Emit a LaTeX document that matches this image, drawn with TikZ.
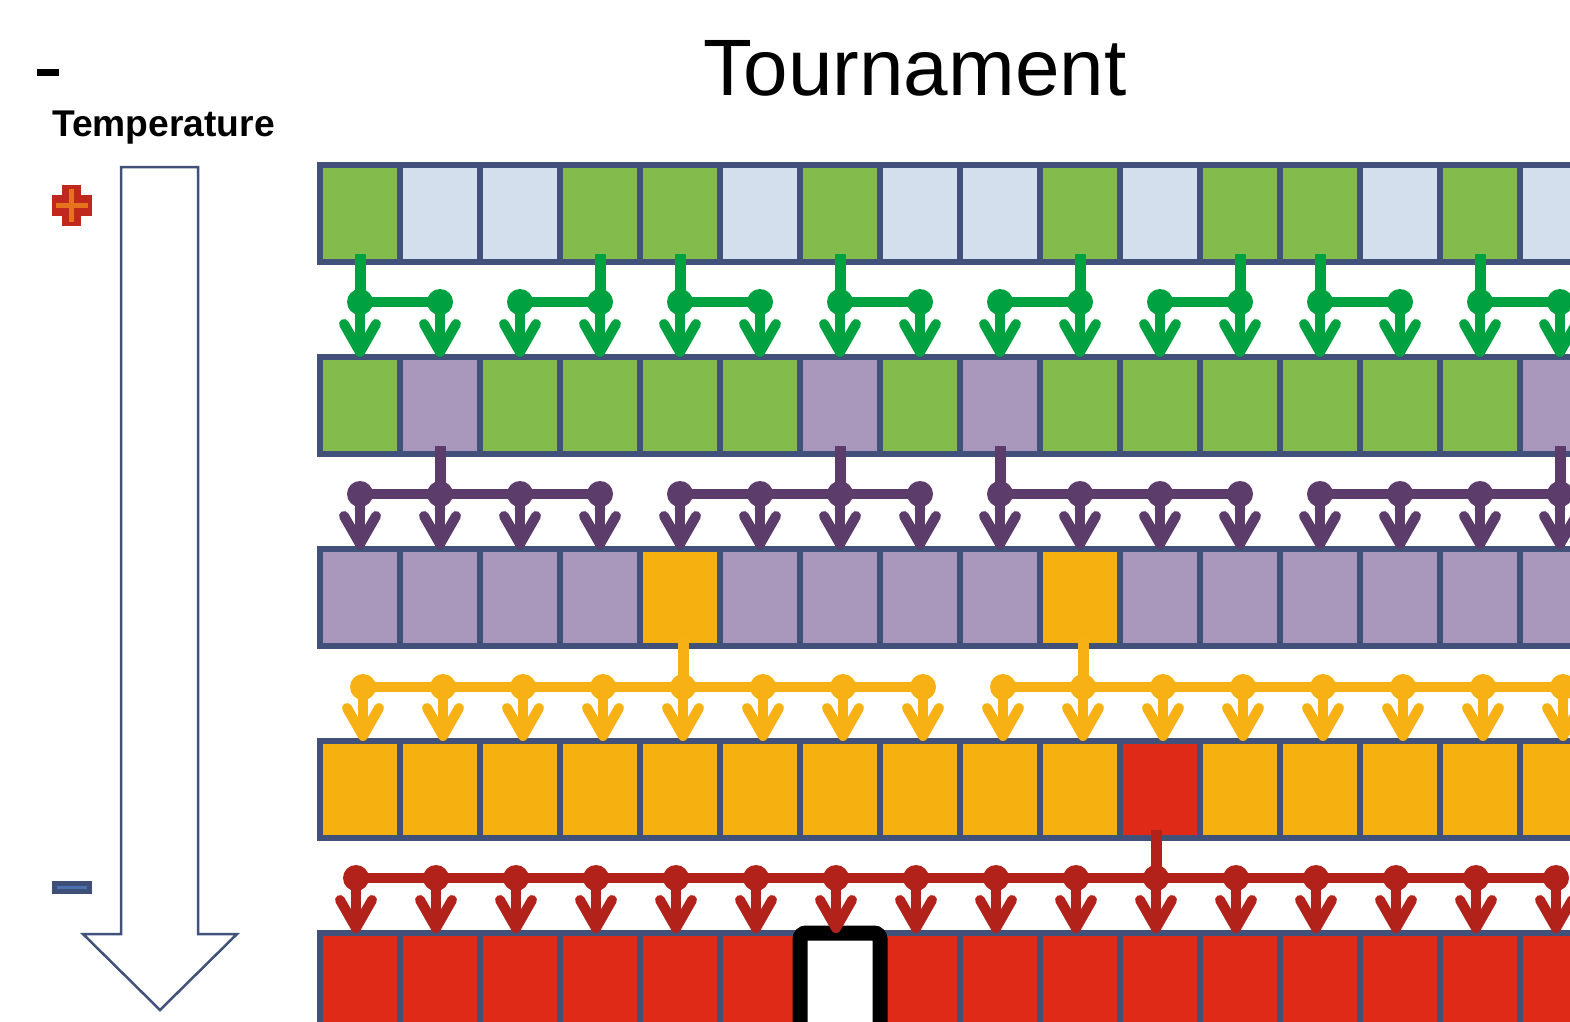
\documentclass[tikz,border=0pt]{standalone}
\usepackage{fontspec}
\setmainfont{Liberation Sans}
\usetikzlibrary{arrows.meta}
\definecolor{bord}{HTML}{41517A}
\definecolor{cG}{HTML}{83BB4C}
\definecolor{cL}{HTML}{D4DFED}
\definecolor{cP}{HTML}{A997BC}
\definecolor{cO}{HTML}{F6B00F}
\definecolor{cR}{HTML}{DE2A17}
\definecolor{gC}{HTML}{00A140}
\definecolor{pC}{HTML}{5C3C6A}
\definecolor{oC}{HTML}{F7B114}
\definecolor{rC}{HTML}{B2221A}
\definecolor{plusR}{HTML}{C0281E}
\definecolor{plusO}{HTML}{E8731E}
\definecolor{minB}{HTML}{3F5078}
\definecolor{minL}{HTML}{4A72B0}
\tikzset{
  cell/.style={draw=bord, line width=5.5pt, minimum width=80pt, minimum height=97pt, inner sep=0pt, outer sep=0pt},
  dot/.style={circle, inner sep=0pt, minimum size=26pt, outer sep=0pt},
  conn/.style={line width=11pt},
  hline/.style={line width=10.5pt},
  arr/.style={line width=10pt, -{Straight Barb[length=28pt,width=32pt,round]}},
}
\begin{document}
\begin{tikzpicture}[x=1pt,y=-1pt]
\useasboundingbox (0,0) rectangle (1570,1021);
\clip (0,0) rectangle (1570,1021);
% titles
\node[anchor=base, inner sep=0pt, font=\fontsize{80}{90}\selectfont] (title) at (915,95) {Tournament};
\node[anchor=base west, inner sep=0pt, font=\fontsize{37.2}{40}\selectfont\bfseries] (temp) at (52,136) {Temperature};
% small black dash
\fill[black] (37,69) rectangle (59,76);
% temperature arrow
\draw[bord, line width=2.5pt, fill=white, line join=miter]
  (121,167) -- (198,167) -- (198,934) -- (237,934) -- (160,1010) -- (83,934) -- (121,934) -- cycle;
% plus sign
\fill[plusR] (62,185) rectangle (81,226);
\fill[plusR] (52,195) rectangle (92,216);
\draw[plusO, line width=5pt] (71.5,189) -- (71.5,222);
\draw[plusO, line width=5pt] (56,205.5) -- (88,205.5);
% minus sign
\fill[minB] (52,881) rectangle (92,894);
\draw[minL, line width=2.5pt] (57,887.5) -- (87,887.5);
% cells
\foreach \c [count=\i] in {G,L,L,G,G,L,G,L,L,G,L,G,G,L,G,L}
  \node[cell, fill=c\c] (c1-\i) at ({320+80*\i-40},213.5) {};
\foreach \c [count=\i] in {G,P,G,G,G,G,P,G,P,G,G,G,G,G,G,P}
  \node[cell, fill=c\c] (c2-\i) at ({320+80*\i-40},405.5) {};
\foreach \c [count=\i] in {P,P,P,P,O,P,P,P,P,O,P,P,P,P,P,P}
  \node[cell, fill=c\c] (c3-\i) at ({320+80*\i-40},597.5) {};
\foreach \c [count=\i] in {O,O,O,O,O,O,O,O,O,O,R,O,O,O,O,O}
  \node[cell, fill=c\c] (c4-\i) at ({320+80*\i-40},789.5) {};
\foreach \c [count=\i] in {R,R,R,R,R,R,R,R,R,R,R,R,R,R,R,R}
  \node[cell, fill=c\c] (c5-\i) at ({320+80*\i-40},981.5) {};
% black box
\node[draw=black, fill=white, line width=15pt, rounded corners=6pt, minimum width=80pt, minimum height=200pt, inner sep=0pt, outer sep=0pt, anchor=north] (hole) at (c5-7.north) {};
% dots
\foreach \r/\y/\dx/\col in {1/302/0/gC, 2/494/0/pC, 3/687/3/oC, 4/878/-4/rC}
  \foreach \i in {1,...,16}
    \node[dot, fill=\col] (d\r-\i) at ({320+80*\i-40+\dx},\y) {};
% groups: row / first / last / source / colour
\foreach \r/\a/\b/\s/\col in {
  1/1/2/1/gC, 1/3/4/4/gC, 1/5/6/5/gC, 1/7/8/7/gC, 1/9/10/10/gC, 1/11/12/12/gC, 1/13/14/13/gC, 1/15/16/15/gC,
  2/1/4/2/pC, 2/5/8/7/pC, 2/9/12/9/pC, 2/13/16/16/pC,
  3/1/8/5/oC, 3/9/16/10/oC,
  4/1/16/11/rC} {
  \draw[conn, \col] (d\r-\s |- c\r-\s.south) ++(0,-8) -- (d\r-\s.center);
  \draw[hline, \col] (d\r-\a.center) -- (d\r-\b.center);
}
% arrows
\foreach \r/\col in {1/gC, 2/pC, 3/oC, 4/rC} {
  \pgfmathtruncatemacro{\rr}{\r+1}
  \foreach \i in {1,...,16}
    \draw[arr, \col] (d\r-\i.center) -- (d\r-\i |- c\rr-\i.north);
}
\end{tikzpicture}
\end{document}
